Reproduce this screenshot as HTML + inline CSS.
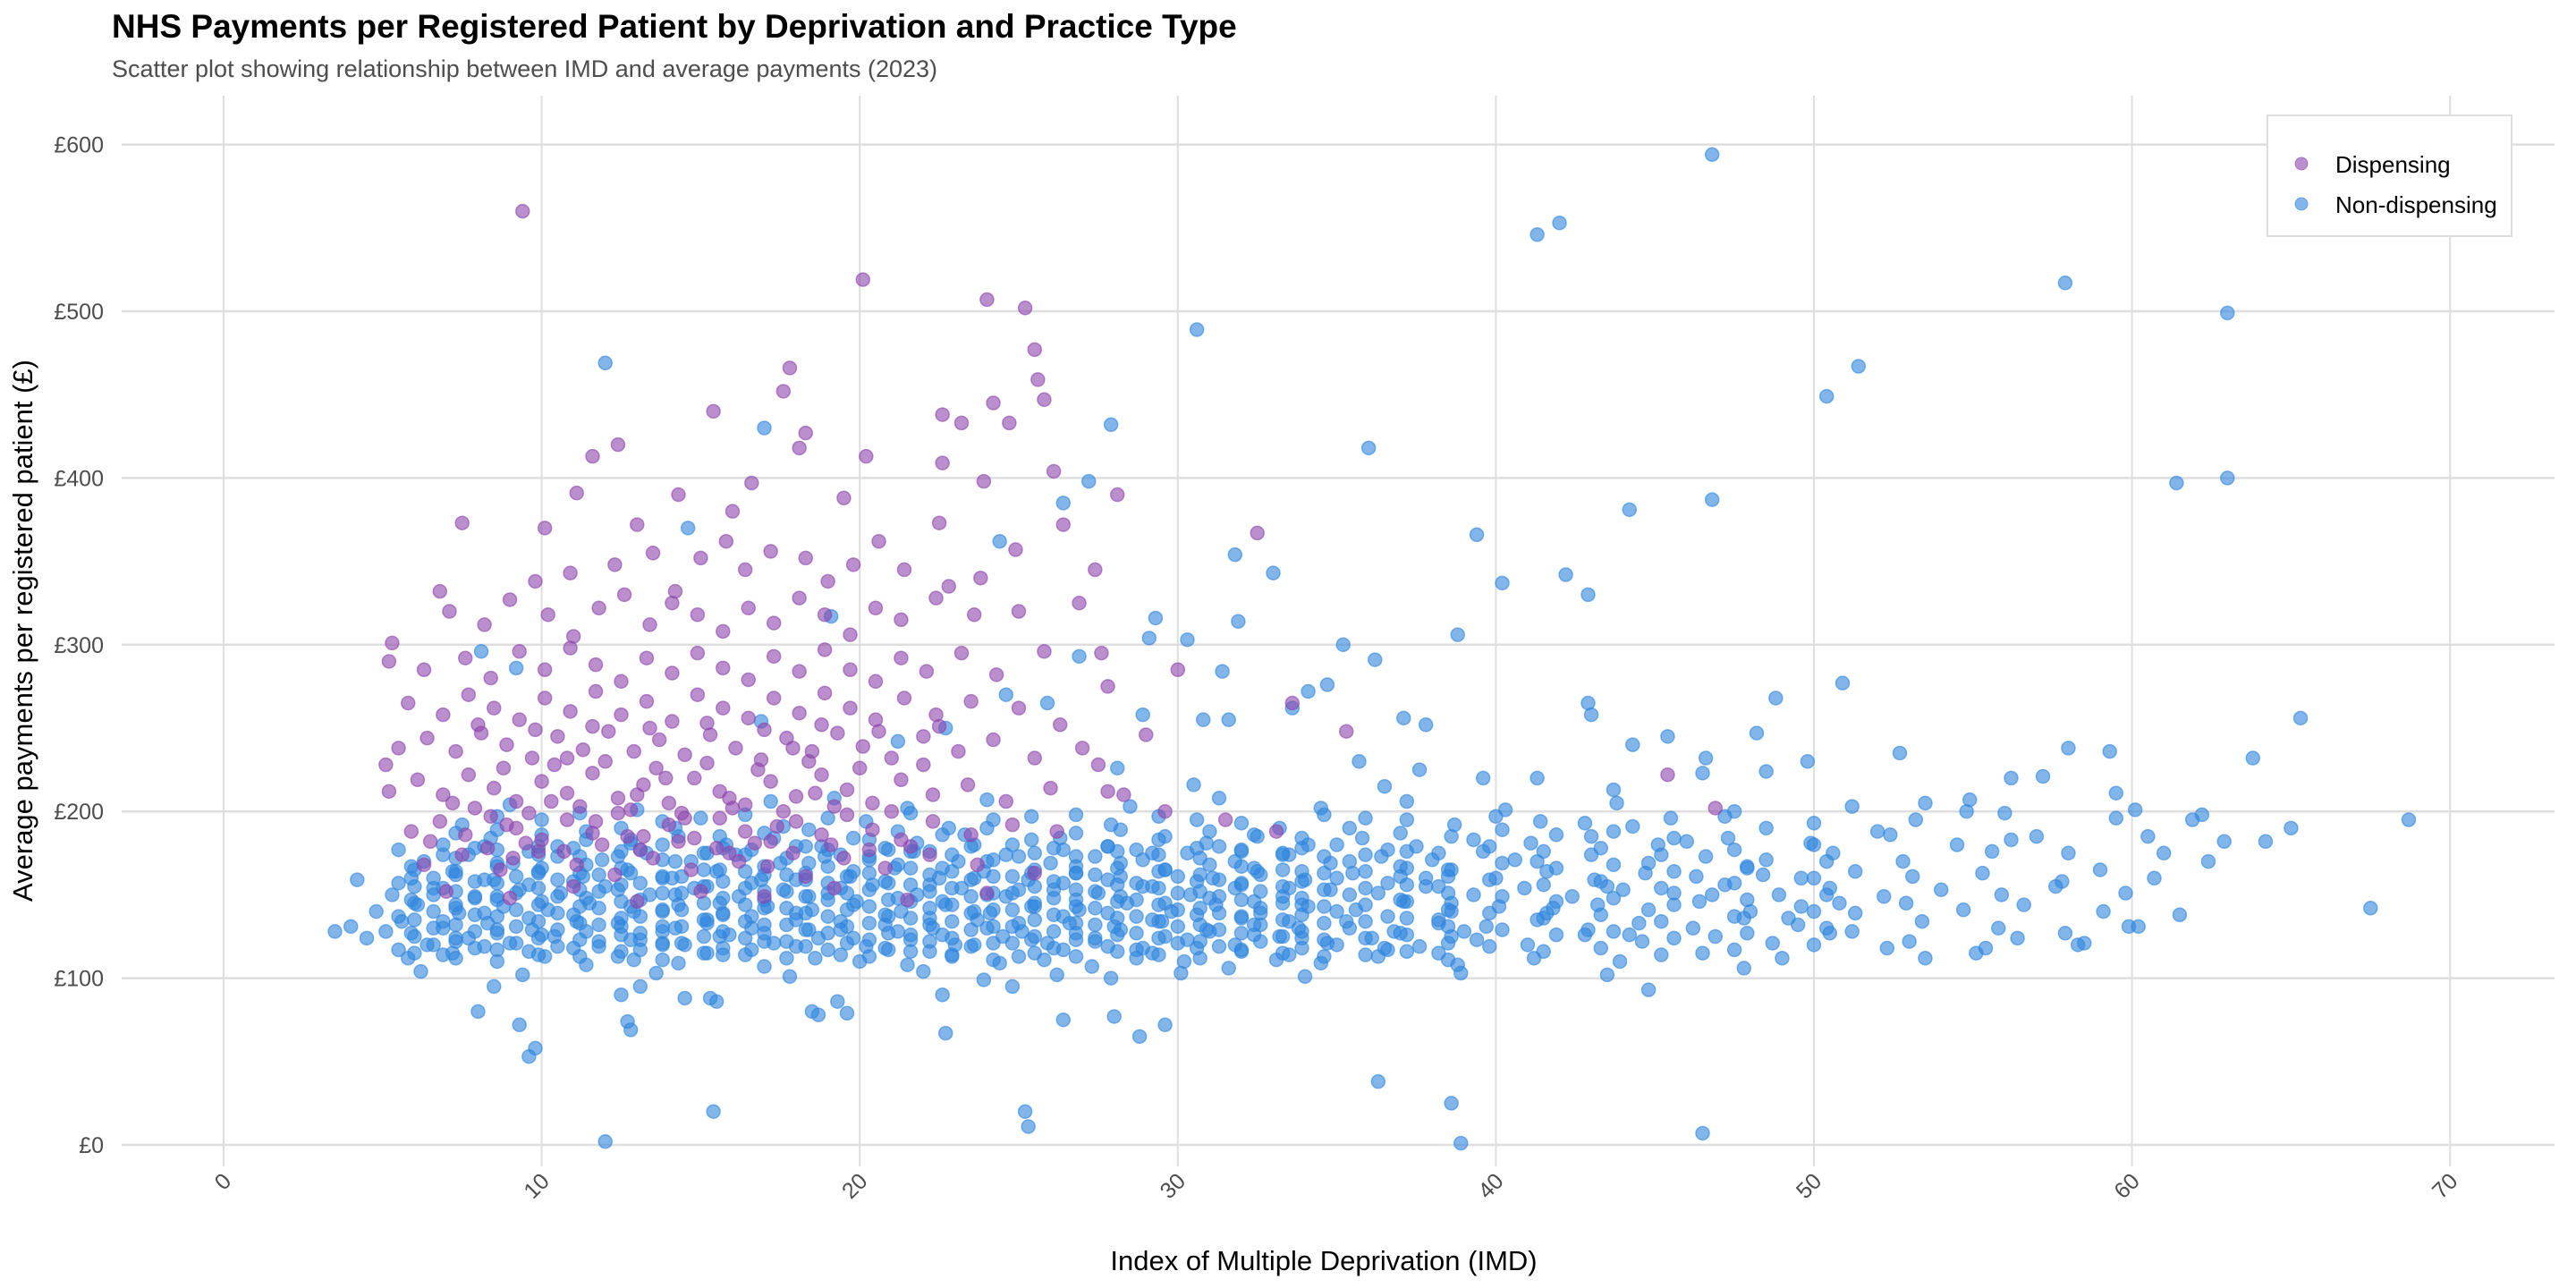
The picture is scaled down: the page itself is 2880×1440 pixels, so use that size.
<!DOCTYPE html>
<html><head><meta charset="utf-8"><title>NHS Payments scatter</title>
<style>
html,body{margin:0;padding:0;background:#fff;}
svg{display:block;font-family:"Liberation Sans",Arial,sans-serif;}
</style></head>
<body>
<svg id="chart" width="2880" height="1440" viewBox="0 0 2880 1440" xmlns="http://www.w3.org/2000/svg">
<rect width="2880" height="1440" fill="#fff"/>
<text x="125" y="42" font-size="37" font-weight="bold" fill="#000">NHS Payments per Registered Patient by Deprivation and Practice Type</text>
<text x="125" y="86" font-size="27" fill="#4d4d4d">Scatter plot showing relationship between IMD and average payments (2023)</text>
<g id="grid"></g>
<g id="yticks"></g>
<g id="xticks"></g>
<g id="pts"></g>
<text x="1480" y="1420" font-size="31" text-anchor="middle" fill="#000">Index of Multiple Deprivation (IMD)</text>
<text transform="translate(36,705) rotate(-90)" font-size="31" text-anchor="middle" fill="#000">Average payments per registered patient (£)</text>
<g>
<rect x="2535" y="129" width="273" height="135" fill="#fff" stroke="#dedede" stroke-width="2"/>
<g>
<circle cx="2573" cy="183" r="7" fill="#8e44ad" fill-opacity="0.6" stroke="#8e44ad" stroke-opacity="0.6"/>
<text x="2611" y="193" font-size="26" fill="#000">Dispensing</text></g>
<g>
<circle cx="2573" cy="228" r="7" fill="#2e86de" fill-opacity="0.6" stroke="#2e86de" stroke-opacity="0.6"/>
<text x="2611" y="238" font-size="26" fill="#000">Non-dispensing</text></g>
</g>
</svg>
<script>
const xTicks=[0,10,20,30,40,50,60,70];
const yTicks=[0,100,200,300,400,500,600];
const yTickLabels=["£0","£100","£200","£300","£400","£500","£600"];
const nonDispensing=[
[4.5,124],[5.8,112],[7.2,115],[8.6,110],[10.1,113],[11.4,108],[12.9,111],[14.3,109],[15.7,114],[17.0,107],[18.6,112],[20.0,110],[21.5,108],[22.9,113],[24.4,109],[25.8,111],[27.3,107],[28.7,112],[30.2,110],[31.6,106],[33.1,111],[34.5,109],[36.3,113],[38.8,108],[41.2,112],[43.9,110],[46.5,115],[49.0,112],[52.3,118],[55.1,115],
[5.1,128],[6.4,120],[7.7,124],[9.0,121],[10.4,125],[11.8,119],[13.1,123],[14.5,120],[15.9,126],[17.3,121],[18.7,124],[20.2,119],[21.6,123],[23.0,120],[24.5,125],[25.9,121],[27.4,124],[28.9,118],[30.3,123],[31.8,120],[33.2,125],[34.7,121],[36.1,124],[37.6,119],[39.4,123],[41.0,120],[42.8,126],[44.6,122],[46.9,125],[48.7,121],[50.5,127],[53.0,122],[56.4,124],[58.5,121],
[4.0,131],[5.6,134],[6.9,130],[8.3,133],[9.7,129],[11.1,134],[12.5,131],[13.8,128],[15.2,133],[16.6,130],[18.0,135],[19.4,129],[20.8,132],[22.3,130],[23.7,135],[25.1,128],[26.6,133],[28.0,131],[29.5,134],[30.9,129],[32.4,132],[33.8,130],[35.3,134],[36.8,128],[38.2,133],[39.7,131],[41.3,135],[42.9,129],[44.5,133],[46.2,130],[47.8,136],[49.5,132],[51.2,128],[53.4,134],[55.8,130],[57.9,127],[60.2,131],
[4.8,140],[6.1,144],[7.4,139],[8.8,143],[10.2,141],[11.5,145],[12.9,140],[14.3,144],[15.7,139],[17.1,143],[18.5,141],[19.9,146],[21.3,140],[22.7,144],[24.1,139],[25.5,143],[26.9,141],[28.4,145],[29.8,140],[31.2,144],[32.6,139],[34.1,143],[35.6,141],[37.1,146],[38.6,140],[40.1,143],[41.6,139],[43.2,144],[44.8,141],[46.4,146],[48.0,140],[49.6,143],[51.3,139],[52.9,145],[54.7,141],[56.6,144],[59.1,140],[61.5,138],
[5.3,150],[6.6,154],[7.9,149],[9.3,153],[10.6,151],[12.0,155],[13.4,150],[14.8,154],[16.2,149],[17.6,153],[19.0,151],[20.4,156],[21.8,150],[23.2,154],[24.6,149],[26.1,153],[27.5,151],[28.9,155],[30.4,150],[31.8,154],[33.3,149],[34.8,153],[36.3,151],[37.8,155],[39.3,150],[40.9,154],[42.4,149],[44.0,153],[45.6,151],[47.2,156],[48.9,150],[50.5,154],[52.2,149],[54.0,153],[55.9,150],[57.6,155],[59.8,151],
[5.9,160],[7.2,164],[8.5,159],[9.9,163],[11.3,161],[12.7,165],[14.1,160],[15.5,164],[16.9,159],[18.3,163],[19.7,161],[21.1,166],[22.5,160],[23.9,164],[25.3,159],[26.8,163],[28.2,161],[29.6,165],[31.1,160],[32.5,164],[34.0,159],[35.5,163],[37.0,161],[38.5,165],[40.0,160],[41.6,164],[43.1,159],[44.7,163],[46.3,161],[47.9,166],[49.6,160],[51.3,164],[53.1,161],[55.3,163],[57.8,158],
[6.3,170],[7.7,174],[9.1,169],[10.5,173],[11.9,171],[13.3,175],[14.7,170],[16.1,174],[17.5,169],[18.9,173],[20.3,171],[21.7,176],[23.1,170],[24.6,174],[26.0,169],[27.4,173],[28.9,171],[30.3,175],[31.8,170],[33.3,174],[34.8,169],[36.4,173],[38.0,171],[39.6,176],[41.3,170],[43.0,174],[44.8,169],[46.6,173],[48.5,171],[50.6,175],[52.8,170],[55.6,176],
[6.9,180],[8.4,184],[9.9,179],[11.4,183],[12.8,181],[14.3,185],[15.8,180],[17.3,184],[18.8,179],[20.3,183],[21.8,181],[23.3,186],[24.8,180],[26.3,184],[27.8,179],[29.4,183],[30.9,181],[32.5,185],[34.1,180],[35.8,184],[37.5,179],[39.3,183],[41.1,181],[43.0,185],[45.1,180],[47.3,184],[49.9,181],[52.4,186],[56.2,183],
[7.5,192],[10.0,195],[12.5,190],[15.0,196],[17.6,191],[20.2,194],[22.8,190],[25.4,197],[27.9,192],[30.6,195],[33.2,190],[35.9,196],[38.7,192],[41.4,194],[44.3,191],[47.2,197],[50.0,193],[53.2,195],[56.0,199],[59.5,196],
[9.0,204],[13.0,201],[17.2,206],[21.5,202],[24.0,207],[28.5,203],[31.3,208],[34.5,202],[37.2,206],[40.3,201],[43.8,205],[47.5,200],[51.2,203],[54.9,207],[60.1,201],[62.2,198],
[6.2,104],[9.4,102],[13.6,103],[17.8,101],[22.0,104],[26.2,102],[30.1,103],[34.0,101],[38.9,103],[43.5,102],[47.8,106],[53.5,112],
[5.5,117],[6.9,114],[8.2,119],[9.6,116],[11.0,118],[12.4,113],[13.8,120],[15.2,115],[16.6,117],[18.0,119],[19.4,114],[20.8,118],[22.2,116],[23.6,120],[25.0,113],[26.4,117],[27.8,119],[29.2,115],[30.6,118],[32.0,116],[33.5,114],[35.0,120],[36.6,117],[38.2,115],[39.8,119],[41.5,116],[43.3,118],[45.2,114],[47.5,117],[50.0,120],
[5.9,127],[7.3,124],[8.6,129],[10.0,126],[11.4,128],[12.8,123],[14.2,130],[15.6,125],[17.0,127],[18.4,129],[19.8,124],[21.2,128],[22.6,126],[24.0,130],[25.4,123],[26.8,127],[28.2,129],[29.6,125],[31.0,128],[32.4,126],[33.9,124],[35.4,130],[37.0,127],[38.6,125],[40.2,129],[41.9,126],[43.7,128],[45.6,124],[47.9,127],[50.4,130],
[5.5,137],[6.9,134],[8.2,139],[9.6,136],[11.0,138],[12.4,133],[13.8,140],[15.2,135],[16.6,137],[18.0,139],[19.4,134],[20.8,138],[22.2,136],[23.6,140],[25.0,133],[26.4,137],[27.8,139],[29.2,135],[30.6,138],[32.0,136],[33.5,134],[35.0,140],[36.6,137],[38.2,135],[39.8,139],[41.5,136],[43.3,138],[45.2,134],[47.5,137],[50.0,140],
[5.9,147],[7.3,144],[8.6,149],[10.0,146],[11.4,148],[12.8,143],[14.2,150],[15.6,145],[17.0,147],[18.4,149],[19.8,144],[21.2,148],[22.6,146],[24.0,150],[25.4,143],[26.8,147],[28.2,149],[29.6,145],[31.0,148],[32.4,146],[33.9,144],[35.4,150],[37.0,147],[38.6,145],[40.2,149],[41.9,146],[43.7,148],[45.6,144],[47.9,147],[50.4,150],
[5.5,157],[6.9,154],[8.2,159],[9.6,156],[11.0,158],[12.4,153],[13.8,160],[15.2,155],[16.6,157],[18.0,159],[19.4,154],[20.8,158],[22.2,156],[23.6,160],[25.0,153],[26.4,157],[27.8,159],[29.2,155],[30.6,158],[32.0,156],[33.5,154],[35.0,160],[36.6,157],[38.2,155],[39.8,159],[41.5,156],[43.3,158],[45.2,154],[47.5,157],[50.0,160],
[5.9,167],[7.3,164],[8.6,169],[10.0,166],[11.4,168],[12.8,163],[14.2,170],[15.6,165],[17.0,167],[18.4,169],[19.8,164],[21.2,168],[22.6,166],[24.0,170],[25.4,163],[26.8,167],[28.2,169],[29.6,165],[31.0,168],[32.4,166],[33.9,164],[35.4,170],[37.0,167],[38.6,165],[40.2,169],[41.9,166],[43.7,168],[45.6,164],[47.9,167],[50.4,170],
[5.5,177],[6.9,174],[8.2,179],[9.6,176],[11.0,178],[12.4,173],[13.8,180],[15.2,175],[16.6,177],[18.0,179],[19.4,174],[20.8,178],[22.2,176],[23.6,180],[25.0,173],[26.4,177],[27.8,179],[29.2,175],[30.6,178],[32.0,176],[33.5,174],[35.0,180],[36.6,177],[38.2,175],[39.8,179],[41.5,176],[43.3,178],[45.2,174],[47.5,177],[50.0,180],
[7.3,187],[8.6,189],[10.0,186],[11.4,188],[12.8,183],[14.2,190],[15.6,185],[17.0,187],[18.4,189],[19.8,184],[21.2,188],[22.6,186],[24.0,190],[25.4,183],[26.8,187],[28.2,189],[29.6,185],[31.0,188],[32.4,186],[33.9,184],[35.4,190],[37.0,187],[38.6,185],[40.2,189],[41.9,186],[43.7,188],[45.6,184],
[6.0,115],[7.3,112],[8.6,117],[9.9,114],[11.2,113],[12.5,116],[13.8,111],[15.1,115],[16.4,114],[17.7,112],[19.0,117],[20.3,113],[21.6,116],[22.9,114],[24.2,111],[25.5,115],[26.8,113],[28.1,116],[29.4,114],[30.7,112],[32.0,117],[33.3,115],[34.6,113],[35.9,114],[37.2,116],[38.5,111],
[6.0,125],[7.3,122],[8.6,127],[9.9,124],[11.2,123],[12.5,126],[13.8,121],[15.1,125],[16.4,124],[17.7,122],[19.0,127],[20.3,123],[21.6,126],[22.9,124],[24.2,121],[25.5,125],[26.8,123],[28.1,126],[29.4,124],[30.7,122],[32.0,127],[33.3,125],[34.6,123],[35.9,124],[37.2,126],[38.5,121],
[6.0,135],[7.3,132],[8.6,137],[9.9,134],[11.2,133],[12.5,136],[13.8,131],[15.1,135],[16.4,134],[17.7,132],[19.0,137],[20.3,133],[21.6,136],[22.9,134],[24.2,131],[25.5,135],[26.8,133],[28.1,136],[29.4,134],[30.7,132],[32.0,137],[33.3,135],[34.6,133],[35.9,134],[37.2,136],[38.5,131],
[6.0,145],[7.3,142],[8.6,147],[9.9,144],[11.2,143],[12.5,146],[13.8,141],[15.1,145],[16.4,144],[17.7,142],[19.0,147],[20.3,143],[21.6,146],[22.9,144],[24.2,141],[25.5,145],[26.8,143],[28.1,146],[29.4,144],[30.7,142],[32.0,147],[33.3,145],[34.6,143],[35.9,144],[37.2,146],[38.5,141],
[6.0,155],[7.3,152],[8.6,157],[9.9,154],[11.2,153],[12.5,156],[13.8,151],[15.1,155],[16.4,154],[17.7,152],[19.0,157],[20.3,153],[21.6,156],[22.9,154],[24.2,151],[25.5,155],[26.8,153],[28.1,156],[29.4,154],[30.7,152],[32.0,157],[33.3,155],[34.6,153],[35.9,154],[37.2,156],[38.5,151],
[6.0,165],[7.3,162],[8.6,167],[9.9,164],[11.2,163],[12.5,166],[13.8,161],[15.1,165],[16.4,164],[17.7,162],[19.0,167],[20.3,163],[21.6,166],[22.9,164],[24.2,161],[25.5,165],[26.8,163],[28.1,166],[29.4,164],[30.7,162],[32.0,167],[33.3,165],[34.6,163],[35.9,164],[37.2,166],[38.5,161],
[7.3,172],[8.6,177],[9.9,174],[11.2,173],[12.5,176],[13.8,171],[15.1,175],[16.4,174],[17.7,172],[19.0,177],[20.3,173],[21.6,176],[22.9,174],[24.2,171],[25.5,175],[26.8,173],[28.1,176],[29.4,174],[30.7,172],[32.0,177],[33.3,175],[34.6,173],[35.9,174],[37.2,176],
[8.6,197],[11.2,199],[13.8,194],[16.4,198],[19.0,196],[21.6,199],[24.2,195],[26.8,198],[29.4,197],[32.0,193],[34.6,198],[37.2,195],[40.0,197],[42.8,193],[45.5,196],[48.5,190],[52.0,188],[54.5,180],
[6.6,120],[7.9,118],[9.2,121],[10.5,119],[11.8,122],[13.1,117],[14.4,121],[15.7,118],[17.0,122],[18.3,119],[19.6,121],[20.9,117],[22.2,122],[23.5,119],[24.8,121],[26.1,118],[27.4,122],[28.7,117],[30.0,121],[31.3,119],[32.6,122],[33.9,118],
[6.6,130],[7.9,128],[9.2,131],[10.5,129],[11.8,132],[13.1,127],[14.4,131],[15.7,128],[17.0,132],[18.3,129],[19.6,131],[20.9,127],[22.2,132],[23.5,129],[24.8,131],[26.1,128],[27.4,132],[28.7,127],[30.0,131],[31.3,129],[32.6,132],[33.9,128],
[6.6,140],[7.9,138],[9.2,141],[10.5,139],[11.8,142],[13.1,137],[14.4,141],[15.7,138],[17.0,142],[18.3,139],[19.6,141],[20.9,137],[22.2,142],[23.5,139],[24.8,141],[26.1,138],[27.4,142],[28.7,137],[30.0,141],[31.3,139],[32.6,142],[33.9,138],
[6.6,150],[7.9,148],[9.2,151],[10.5,149],[11.8,152],[13.1,147],[14.4,151],[15.7,148],[17.0,152],[18.3,149],[19.6,151],[20.9,147],[22.2,152],[23.5,149],[24.8,151],[26.1,148],[27.4,152],[28.7,147],[30.0,151],[31.3,149],[32.6,152],[33.9,148],
[6.6,160],[7.9,158],[9.2,161],[10.5,159],[11.8,162],[13.1,157],[14.4,161],[15.7,158],[17.0,162],[18.3,159],[19.6,161],[20.9,157],[22.2,162],[23.5,159],[24.8,161],[26.1,158],[27.4,162],[28.7,157],[30.0,161],[31.3,159],[32.6,162],[33.9,158],
[7.9,178],[10.5,179],[13.1,177],[15.7,178],[18.3,179],[20.9,177],[23.5,179],[26.1,178],[28.7,177],[31.3,179],[33.9,178],
[36.5,118],[39.0,128],[41.8,142],[44.2,126],[46.8,150],[49.2,136],[37.8,160],[40.6,171],[43.5,155],[46.0,182],[48.4,162],[50.8,145],
[12.0,469],[30.6,489],[41.3,546],[42.0,553],[46.8,594],[57.9,517],[63.0,499],[50.4,449],[51.4,467],[61.4,397],[63.0,400],[46.8,387],[44.2,381],[36.0,418],[39.4,366],[40.2,337],[42.2,342],[42.9,330],[38.8,306],[35.2,300],[36.2,291],[33.0,343],[31.8,354],[31.9,314],[31.4,284],[30.3,303],[29.3,316],[29.1,304],[34.1,272],[34.7,276],[37.1,256],[37.8,252],[42.9,265],[43.0,258],[44.3,240],[45.4,245],[46.6,232],[48.8,268],[48.2,247],[49.8,230],[50.9,277],[52.7,235],[57.2,221],[58.0,238],[59.3,236],[63.8,232],[65.3,256],[68.7,195],[67.5,142],[62.9,182],[61.9,195],[60.5,185],[59.5,211],[56.2,220],[58.3,120],[59.9,131],[55.4,118],[44.8,93],[36.3,38],[38.6,25],[38.9,1],[46.5,7],[25.2,20],[25.3,11],[15.4,20],[12.0,2],[9.6,53],[9.8,58],[9.3,72],[12.8,69],[12.7,74],[8.0,80],[13.1,95],[12.5,90],[14.5,88],[15.3,88],[15.5,86],[18.5,80],[18.7,78],[19.6,79],[19.3,86],[22.7,67],[22.6,90],[24.8,95],[26.4,75],[28.0,77],[28.8,65],[29.6,72],[27.9,100],[23.9,99],[8.5,95],[4.2,159],[3.5,128],[17.0,430],[27.2,398],[24.4,362],[26.4,385],[27.9,432],[19.1,317],[24.6,270],[25.9,265],[26.9,293],[28.9,258],[30.8,255],[33.6,262],[31.6,255],[36.5,215],[39.6,220],[41.3,220],[43.7,213],[30.5,216],[28.1,226],[35.7,230],[37.6,225],[53.5,205],[54.8,200],[46.5,223],[48.5,224],[14.6,370],[19.2,208],[21.2,242],[22.7,250],[16.9,254],[8.1,296],[9.2,286],[65.0,190],[61.0,175],[62.4,170],[64.2,182],[60.7,160],[59.0,165],[58.0,175],[57.0,185]
];
const dispensing=[
[9.4,560],[20.1,519],[24.0,507],[25.2,502],[25.5,477],[25.6,459],[17.8,466],[17.6,452],[15.4,440],[12.4,420],[11.6,413],[18.3,427],[20.2,413],[18.1,418],[22.6,438],[23.2,433],[24.2,445],[24.7,433],[26.1,404],[26.4,372],[28.1,390],[11.1,391],[16.6,397],[22.6,409],[23.9,398],[25.8,447],[24.9,357],[22.5,373],[10.1,370],[7.5,373],[6.8,332],[5.3,301],[5.2,290],[5.1,228],[32.5,367],[30.0,285],[33.6,265],[35.3,248],[45.4,222],[46.9,202],[27.4,345],[26.9,325],[27.6,295],[27.8,275],[29.0,246],[27.5,228],[28.3,210],[29.6,200],[31.5,195],[33.1,188],
[9.8,338],[10.9,343],[12.3,348],[13.5,355],[14.2,332],[15.0,352],[15.8,362],[16.4,345],[17.2,356],[18.3,352],[19.0,338],[19.8,348],[20.6,362],[21.4,345],[22.8,335],[23.8,340],[14.3,390],[16.0,380],[19.5,388],[13.0,372],
[7.1,320],[8.2,312],[9.0,327],[10.2,318],[11.0,305],[11.8,322],[12.6,330],[13.4,312],[14.1,325],[14.9,318],[15.7,308],[16.5,322],[17.3,313],[18.1,328],[18.9,318],[19.7,306],[20.5,322],[21.3,315],[22.4,328],[23.6,318],[25.0,320],[25.8,296],
[6.3,285],[7.6,292],[8.4,280],[9.3,296],[10.1,285],[10.9,298],[11.7,288],[12.5,278],[13.3,292],[14.1,283],[14.9,295],[15.7,286],[16.5,279],[17.3,293],[18.1,284],[18.9,297],[19.7,285],[20.5,278],[21.3,292],[22.1,284],[23.2,295],[24.3,282],
[5.8,265],[6.9,258],[7.7,270],[8.5,262],[9.3,255],[10.1,268],[10.9,260],[11.7,272],[12.5,258],[13.3,266],[14.1,254],[14.9,270],[15.7,262],[16.5,256],[17.3,268],[18.1,259],[18.9,271],[19.7,262],[20.5,255],[21.4,268],[22.4,258],[23.5,266],[25.0,262],[26.3,252],
[5.5,238],[6.4,244],[7.3,236],[8.1,247],[8.9,240],[9.7,232],[10.5,245],[11.3,237],[12.1,248],[12.9,236],[13.7,243],[14.5,234],[15.3,246],[16.1,238],[16.9,231],[17.7,244],[18.5,236],[19.3,247],[20.1,239],[21.0,232],[22.0,245],[23.1,236],[24.2,243],[25.5,232],[27.0,238],
[5.2,212],[6.1,219],[6.9,210],[7.7,222],[8.5,214],[9.2,206],[10.0,218],[10.8,211],[11.6,223],[12.4,208],[13.2,216],[14.0,205],[14.8,220],[15.6,212],[16.4,204],[17.2,218],[18.0,209],[18.8,222],[19.6,213],[20.4,205],[21.3,219],[22.3,210],[23.4,216],[24.6,206],[26.0,214],[27.8,212],
[5.9,188],[6.8,194],[7.6,186],[8.4,197],[9.2,190],[10.0,183],[10.8,195],[11.6,187],[12.4,199],[13.2,185],[14.0,192],[14.8,184],[15.6,196],[16.4,188],[17.2,182],[18.0,194],[18.8,186],[19.6,198],[20.4,189],[21.3,183],[22.3,194],[23.5,186],[24.8,192],[26.2,188],
[6.3,168],[7.5,174],[8.7,165],[9.9,176],[11.1,168],[12.3,162],[13.5,172],[14.7,165],[15.9,175],[17.1,167],[18.3,161],[19.5,172],[20.8,166],[22.2,174],[23.7,168],[25.5,163],
[7.0,152],[9.0,148],[11.0,155],[13.0,146],[15.0,152],[17.0,149],[19.2,154],[21.5,147],[24.0,151],
[7.9,202],[8.8,226],[9.6,199],[10.4,228],[11.2,203],[12.0,230],[12.8,201],[13.6,226],[14.4,199],[15.2,229],[16.0,202],[16.8,225],[17.6,200],[18.4,230],[19.2,203],[20.0,226],[21.0,200],[22.0,228],
[8.3,178],[9.5,181],[10.7,176],[11.9,180],[13.1,177],[14.3,182],[15.5,178],[16.7,181],[17.9,175],[19.1,180],[20.3,177],[21.6,179],
[8.0,252],[9.8,249],[11.6,251],[13.4,250],[15.2,253],[17.0,249],[18.8,252],[20.6,248],[22.5,251],
[8.9,192],[10.3,206],[11.7,194],[13.0,210],[14.5,196],[15.9,208],[17.4,191],[18.6,211],[7.2,205],[6.5,182],[9.1,172],[12.7,185],[16.2,170],[10.8,232],[13.9,220],[17.9,238]
];
const NS='http://www.w3.org/2000/svg';
const X0=250, XS=35.56, Y0=1280, YS=1.864;
function sx(v){return X0+v*XS;}
function sy(v){return Y0-v*YS;}
function mk(tag,attrs,parent){const e=document.createElementNS(NS,tag);for(const k in attrs)e.setAttribute(k,attrs[k]);parent.appendChild(e);return e;}
const grid=document.getElementById('grid');
xTicks.forEach(t=>{
  const l=mk('line',{x1:sx(t),x2:sx(t),y1:107,y2:1304,stroke:'#dedede','stroke-width':2},grid);
  
  
});
yTicks.forEach(t=>{
  const l=mk('line',{x1:136,x2:2856,y1:sy(t),y2:sy(t),stroke:'#dedede','stroke-width':2.5},grid);
  
  
});
const yt=document.getElementById('yticks');
yTicks.forEach((t,i)=>{
  const e=mk('text',{x:116,y:sy(t)+9,'font-size':25,'text-anchor':'end',fill:'#4d4d4d'},yt);
  e.textContent=yTickLabels[i];
  
  
});
const xt=document.getElementById('xticks');
xTicks.forEach(t=>{
  const e=mk('text',{x:sx(t)+10,y:1322,'font-size':25,'text-anchor':'end',fill:'#4d4d4d',transform:'rotate(-45 '+(sx(t)+10)+' 1322)'},xt);
  e.textContent=String(t);
  
  
});
const pts=document.getElementById('pts');
nonDispensing.forEach(p=>{
  const c=mk('circle',{cx:sx(p[0]),cy:sy(p[1]),r:7.5,fill:'#2e86de','fill-opacity':0.6,stroke:'#2e86de','stroke-opacity':0.6,'stroke-width':1.5},pts);
  
  
});
dispensing.forEach(p=>{
  const c=mk('circle',{cx:sx(p[0]),cy:sy(p[1]),r:7.5,fill:'#8e44ad','fill-opacity':0.6,stroke:'#8e44ad','stroke-opacity':0.6,'stroke-width':1.5},pts);
  
  
});
</script>
</body></html>
